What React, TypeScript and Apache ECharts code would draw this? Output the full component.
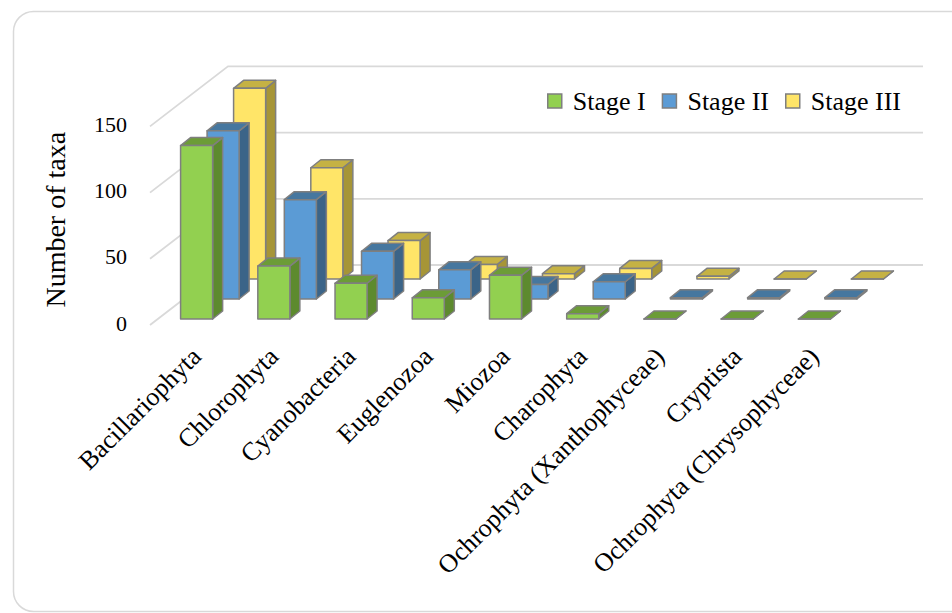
import React, { useEffect, useRef } from "react";
import * as echarts from "echarts";

const CATEGORIES = [
  "Bacillariophyta",
  "Chlorophyta",
  "Cyanobacteria",
  "Euglenozoa",
  "Miozoa",
  "Charophyta",
  "Ochrophyta (Xanthophyceae)",
  "Cryptista",
  "Ochrophyta (Chrysophyceae)",
];
const STAGE_I = [131, 40, 27, 16, 33, 4, 0, 0, 0];
const STAGE_II = [127, 75, 36, 22, 11, 13, 1, 1, 1];
const STAGE_III = [144, 84, 29, 11, 4, 8, 2, 0, 0];
const Y_TICKS = [0, 50, 100, 150];

const SERIES_NAMES = ["Stage I", "Stage II", "Stage III"];
const PALETTE = [
  { front: "#92D050", side: "#5D8A2E", top: "#6C9C37" },
  { front: "#5B9BD5", side: "#3B6488", top: "#46779F" },
  { front: "#FFE568", side: "#A69537", top: "#C5B244" },
];
const EDGE = "#7F7F7F";
const FONT = "'Liberation Serif', 'Times New Roman', serif";

// oblique projection offsets (px)
const ROW_DX = 26.5;
const ROW_DY = -20;
const BAR_DX = 10;
const BAR_DY = -8;
const WALL_DX = 70;
const WALL_DY = -54;
const FLOOR_FRONT_DX = -8;
const FLOOR_FRONT_DY = 6;

function makeBarRenderer(s: number) {
  return (params: any, api: any) => {
    const i = api.value(0);
    const v = api.value(1);
    const base = api.coord([i, 0]);
    const topPt = api.coord([i, v]);
    const band = api.size([1, 0])[0];
    const w = band * 0.415;
    const x0 = base[0] - w / 2 + ROW_DX * s;
    const x1 = x0 + w;
    const yb = base[1] + ROW_DY * s;
    const yt = topPt[1] + ROW_DY * s;
    const c = PALETTE[s];
    const st = (fill: string) => ({
      fill,
      stroke: EDGE,
      lineWidth: 1.5,
      lineJoin: "round",
    });
    return {
      type: "group",
      children: [
        {
          type: "polygon",
          shape: {
            points: [
              [x1, yb],
              [x1 + BAR_DX, yb + BAR_DY],
              [x1 + BAR_DX, yt + BAR_DY],
              [x1, yt],
            ],
          },
          style: st(c.side),
        },
        {
          type: "polygon",
          shape: {
            points: [
              [x0, yt],
              [x1, yt],
              [x1 + BAR_DX, yt + BAR_DY],
              [x0 + BAR_DX, yt + BAR_DY],
            ],
          },
          style: st(c.top),
        },
        {
          type: "rect",
          shape: { x: x0, y: yt, width: w, height: Math.max(0, yb - yt) },
          style: st(c.front),
        },
      ],
    };
  };
}

function renderWall(params: any, api: any) {
  const v = api.value(1);
  const band = api.size([1, 0])[0];
  const l = api.coord([0, v]);
  const r = api.coord([CATEGORIES.length - 1, v]);
  const lx = l[0] - band / 2;
  const rx = r[0] + band / 2;
  const y = l[1];
  return {
    type: "polyline",
    shape: {
      points: [
        [lx + FLOOR_FRONT_DX, y + FLOOR_FRONT_DY],
        [lx + WALL_DX, y + WALL_DY],
        [rx + WALL_DX, y + WALL_DY],
      ],
    },
    style: { stroke: "#D9D9D9", lineWidth: 1.8, fill: "none" },
  };
}

export default function App() {
  const ref = useRef<HTMLDivElement>(null);
  useEffect(() => {
    if (!ref.current) return;
    const chart = echarts.init(ref.current, null, { renderer: "svg" });
    const stageData = [STAGE_I, STAGE_II, STAGE_III];
    const barSeries = [2, 1, 0].map((s) => ({
      type: "custom",
      name: SERIES_NAMES[s],
      renderItem: makeBarRenderer(s),
      itemStyle: { color: PALETTE[s].front },
      data: stageData[s].map((v, i) => [i, v]),
      z: 3,
    }));
    chart.setOption({
      animation: false,
      graphic: [
        {
          type: "rect",
          shape: { x: 13.5, y: 11.5, width: 960, height: 600, r: 20 },
          style: { fill: "none", stroke: "#D9D9D9", lineWidth: 1.5 },
          silent: true,
        },
      ],
      legend: {
        data: SERIES_NAMES,
        left: 547,
        top: 88,
        padding: 0,
        icon: "rect",
        itemWidth: 14,
        itemHeight: 14,
        itemGap: 16,
        itemStyle: { borderColor: EDGE, borderWidth: 1.5 },
        textStyle: {
          fontFamily: FONT,
          fontSize: 26,
          color: "#000",
          padding: [0, 0, 0, 6],
        },
      },
      grid: { left: 158, right: 99, top: 120.4, bottom: 294 },
      xAxis: {
        type: "category",
        data: CATEGORIES,
        axisLine: { show: false },
        axisTick: { show: false },
        splitLine: { show: false },
        axisLabel: {
          interval: 0,
          rotate: 45,
          margin: 33,
          fontFamily: FONT,
          fontSize: 26,
          color: "#000",
        },
      },
      yAxis: {
        type: "value",
        min: 0,
        max: 150,
        interval: 50,
        name: "Number of taxa",
        nameLocation: "middle",
        nameGap: 89,
        nameTextStyle: { fontFamily: FONT, fontSize: 28, color: "#000" },
        axisLine: { show: false },
        axisTick: { show: false },
        splitLine: { show: false },
        axisLabel: {
          margin: 31,
          fontFamily: FONT,
          fontSize: 22,
          color: "#000",
          verticalAlign: "top",
          lineHeight: 8,
        },
      },
      series: [
        {
          type: "custom",
          name: "walls",
          renderItem: renderWall,
          data: Y_TICKS.map((t) => [0, t]),
          silent: true,
          z: 1,
        },
        ...barSeries,
      ],
    });
    return () => chart.dispose();
  }, []);
  return (
    <div
      ref={ref}
      style={{ position: "fixed", left: 0, top: 0, width: 952, height: 613, background: "#fff" }}
    />
  );
}
